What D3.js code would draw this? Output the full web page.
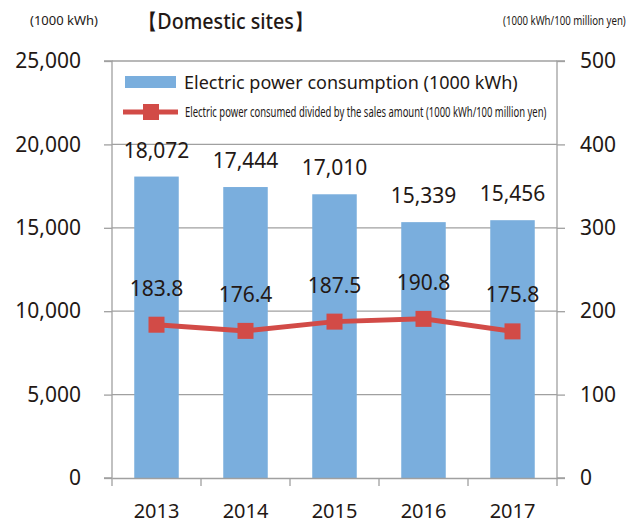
<!DOCTYPE html>
<html><head><meta charset="utf-8">
<script src="https://cdn.jsdelivr.net/npm/d3@7"></script>
<style>body{margin:0;background:#fff}svg{display:block}</style>
</head><body>
<script>
const years = ["2013","2014","2015","2016","2017"];
const consumption = [18072, 17444, 17010, 15339, 15456];
const intensity = [183.8, 176.4, 187.5, 190.8, 175.8];
const leftTicks = [0, 5000, 10000, 15000, 20000, 25000];
const rightTicks = [0, 100, 200, 300, 400, 500];

const W = 629, H = 524;
const m = {l:112, r:72, t:61, b:46};
const svg = d3.select("body").append("svg").attr("width", W).attr("height", H);
const font = "'Noto Sans', 'Open Sans', sans-serif";
const ink = "#231815";
const x = d3.scaleBand().domain(years).range([m.l, W - m.r]).paddingInner(0.5).paddingOuter(0.25);
const xb = d3.scaleBand().domain(years).range([m.l, W - m.r]);
const yL = d3.scaleLinear().domain([0, 25000]).range([H - m.b, m.t]);
const yR = d3.scaleLinear().domain([0, 500]).range([H - m.b, m.t]);

// gridlines
svg.append("g").selectAll("line").data(leftTicks.slice(1)).join("line")
  .attr("x1", m.l).attr("x2", W - m.r).attr("y1", d => yL(d)).attr("y2", d => yL(d))
  .attr("stroke", "#a0a0a0").attr("stroke-width", 1.3);

// bars
svg.append("g").selectAll("rect").data(consumption).join("rect")
  .attr("x", (d,i) => x(years[i])).attr("width", x.bandwidth())
  .attr("y", d => yL(d)).attr("height", d => yL(0) - yL(d))
  .attr("fill", "#7aaedd");

// axes
const gl = svg.append("g").attr("transform", `translate(${m.l},0)`)
  .call(d3.axisLeft(yL).tickValues(leftTicks).tickSize(8).tickPadding(23).tickFormat(d3.format(",")));
const gr = svg.append("g").attr("transform", `translate(${W - m.r},0)`)
  .call(d3.axisRight(yR).tickValues(rightTicks).tickSize(8).tickPadding(15));
const gx = svg.append("g").attr("transform", `translate(0,${H - m.b})`)
  .call(d3.axisBottom(xb).tickSize(0).tickPadding(26));
// category boundary ticks on x axis
svg.append("g").selectAll("line").data(d3.range(years.length + 1)).join("line")
  .attr("x1", i => m.l + i * xb.step()).attr("x2", i => m.l + i * xb.step())
  .attr("y1", H - m.b).attr("y2", H - m.b + 8)
  .attr("stroke", "#a0a0a0").attr("stroke-width", 1.3);
[gl, gr, gx].forEach(g => {
  g.selectAll("path.domain").attr("stroke", "#a0a0a0").attr("stroke-width", 1.3);
  g.selectAll(".tick line").attr("stroke", "#a0a0a0").attr("stroke-width", 1.3);
  g.selectAll("text").attr("font-family", font).attr("font-size", 21).attr("fill", ink);
});
gx.selectAll("text").attr("font-size", 20);
gl.select("path.domain").attr("d", `M-8,${yL(25000)}H0V${yL(0)}H-8`);
gr.select("path.domain").attr("d", `M8,${yR(500)}H0V${yR(0)}H8`);

// line
const cx = i => x(years[i]) + x.bandwidth() / 2;
svg.append("path").datum(intensity)
  .attr("d", d3.line().x((d,i) => cx(i)).y(d => yR(d)))
  .attr("fill", "none").attr("stroke", "#d24b47").attr("stroke-width", 5);
svg.append("g").selectAll("rect").data(intensity).join("rect")
  .attr("x", (d,i) => cx(i) - 8).attr("y", d => yR(d) - 8)
  .attr("width", 16).attr("height", 16).attr("fill", "#d24b47");

// bar labels
svg.append("g").selectAll("text").data(consumption).join("text")
  .attr("x", (d,i) => cx(i)).attr("y", d => yL(d) - 19)
  .attr("text-anchor", "middle").attr("font-family", font).attr("font-size", 21).attr("fill", ink)
  .text(d => d3.format(",")(d));
// line labels
svg.append("g").selectAll("text").data(intensity).join("text")
  .attr("x", (d,i) => cx(i)).attr("y", d => yR(d) - 29)
  .attr("text-anchor", "middle").attr("font-family", font).attr("font-size", 21).attr("fill", ink)
  .text(d => d3.format(".1f")(d));

// condensed text helper: scale horizontally to a target width
function squeezed(tx, ty, size, width, str, weight) {
  const t = svg.append("text").attr("font-family", font).attr("font-size", size)
    .attr("font-weight", weight || 400).attr("fill", ink).text(str);
  const natural = t.node().getComputedTextLength();
  const sx = Math.min(1, width / natural);
  t.attr("transform", `translate(${tx},${ty}) scale(${sx},1)`);
  return t;
}

// legend
svg.append("rect").attr("x", 125).attr("y", 76).attr("width", 51).attr("height", 12).attr("fill", "#7aaedd");
squeezed(184, 89, 19, 334, "Electric power consumption (1000 kWh)");
svg.append("line").attr("x1", 123).attr("x2", 178).attr("y1", 112).attr("y2", 112)
  .attr("stroke", "#d24b47").attr("stroke-width", 5);
svg.append("rect").attr("x", 143).attr("y", 104).attr("width", 16).attr("height", 16).attr("fill", "#d24b47");
squeezed(185, 117, 14, 362, "Electric power consumed divided by the sales amount (1000 kWh/100 million yen)");

// header texts
squeezed(30, 25, 13, 68, "(1000 kWh)");
squeezed(138, 29, 21, 176, "【Domestic sites】", 500);
squeezed(503, 25, 12, 123, "(1000 kWh/100 million yen)");
</script>
</body></html>
